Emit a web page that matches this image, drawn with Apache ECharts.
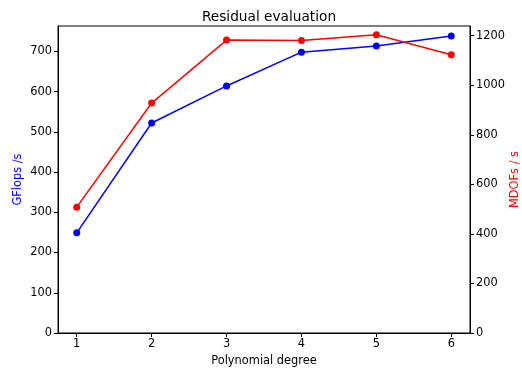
<!DOCTYPE html>
<html><head><meta charset="utf-8">
<script src="https://cdn.jsdelivr.net/npm/echarts@6/dist/echarts.min.js"></script>
<style>html,body{margin:0;padding:0;background:#fff}#c{width:522px;height:370px}</style>
</head><body><div id="c"></div>
<script>
const degrees = [1, 2, 3, 4, 5, 6];
const gflops = [249, 522, 614, 698, 713, 738];
const mdofs = [508, 928, 1182, 1180, 1204, 1123];
const leftTicks = [0, 100, 200, 300, 400, 500, 600, 700];
const rightTicks = [0, 200, 400, 600, 800, 1000, 1200];

const font = 'DejaVu Sans';
const fs = 11.4;
const chart = echarts.init(document.getElementById('c'), null, {renderer: 'canvas'});
const tickStyle = {show: true, inside: false, length: 4, lineStyle: {color: '#000', width: 1}};
const fmt = v => String(v);
chart.setOption({
  animation: false,
  backgroundColor: '#fff',
  title: {text: 'Residual evaluation', left: 264, top: 5, textAlign: 'center',
    textStyle: {fontFamily: font, fontSize: 13.7, fontWeight: 'normal', color: '#000'}},
  grid: {left: 58, right: 52, top: 26, bottom: 37, show: true, borderColor: '#000', borderWidth: 1,
    backgroundColor: 'transparent', containLabel: false, outerBoundsMode: 'none'},
  xAxis: {
    type: 'value', min: 0.75, max: 6.25,
    name: 'Polynomial degree', nameLocation: 'middle', nameGap: 23, nameMoveOverlap: false,
    nameTextStyle: {fontFamily: font, fontSize: fs, color: '#000'},
    axisLine: {show: true, lineStyle: {color: '#000'}},
    axisTick: Object.assign({customValues: degrees}, tickStyle),
    axisLabel: {customValues: degrees, formatter: fmt, fontFamily: font, fontSize: fs, color: '#000', margin: 6},
    splitLine: {show: false}
  },
  yAxis: [{
    type: 'value', min: 0, max: 763, position: 'left',
    name: 'GFlops /s', nameLocation: 'middle', nameGap: 34, nameRotate: 90, nameMoveOverlap: false,
    nameTextStyle: {fontFamily: font, fontSize: fs, color: '#0000ff'},
    axisLine: {show: true, lineStyle: {color: '#000'}},
    axisTick: Object.assign({customValues: leftTicks}, tickStyle),
    axisLabel: {customValues: leftTicks, formatter: fmt, fontFamily: font, fontSize: fs, color: '#000', margin: 6},
    splitLine: {show: false}
  }, {
    type: 'value', min: 0, max: 1239, position: 'right',
    name: 'MDOFs / s', nameLocation: 'middle', nameGap: 40, nameRotate: 90, nameMoveOverlap: false,
    nameTextStyle: {fontFamily: font, fontSize: fs, color: '#ff0000'},
    axisLine: {show: true, lineStyle: {color: '#000'}},
    axisTick: Object.assign({customValues: rightTicks}, tickStyle),
    axisLabel: {customValues: rightTicks, formatter: fmt, fontFamily: font, fontSize: fs, color: '#000', margin: 6},
    splitLine: {show: false}
  }],
  series: [{
    type: 'line', yAxisIndex: 0, data: degrees.map((d, i) => [d, gflops[i]]),
    symbol: 'circle', symbolSize: 7, showAllSymbol: true,
    lineStyle: {color: '#0000ff', width: 1.5}, itemStyle: {color: '#0000ff'}
  }, {
    type: 'line', yAxisIndex: 1, data: degrees.map((d, i) => [d, mdofs[i]]),
    symbol: 'circle', symbolSize: 7, showAllSymbol: true,
    lineStyle: {color: '#ff0000', width: 1.5}, itemStyle: {color: '#ff0000'}
  }]
});
</script></body></html>
